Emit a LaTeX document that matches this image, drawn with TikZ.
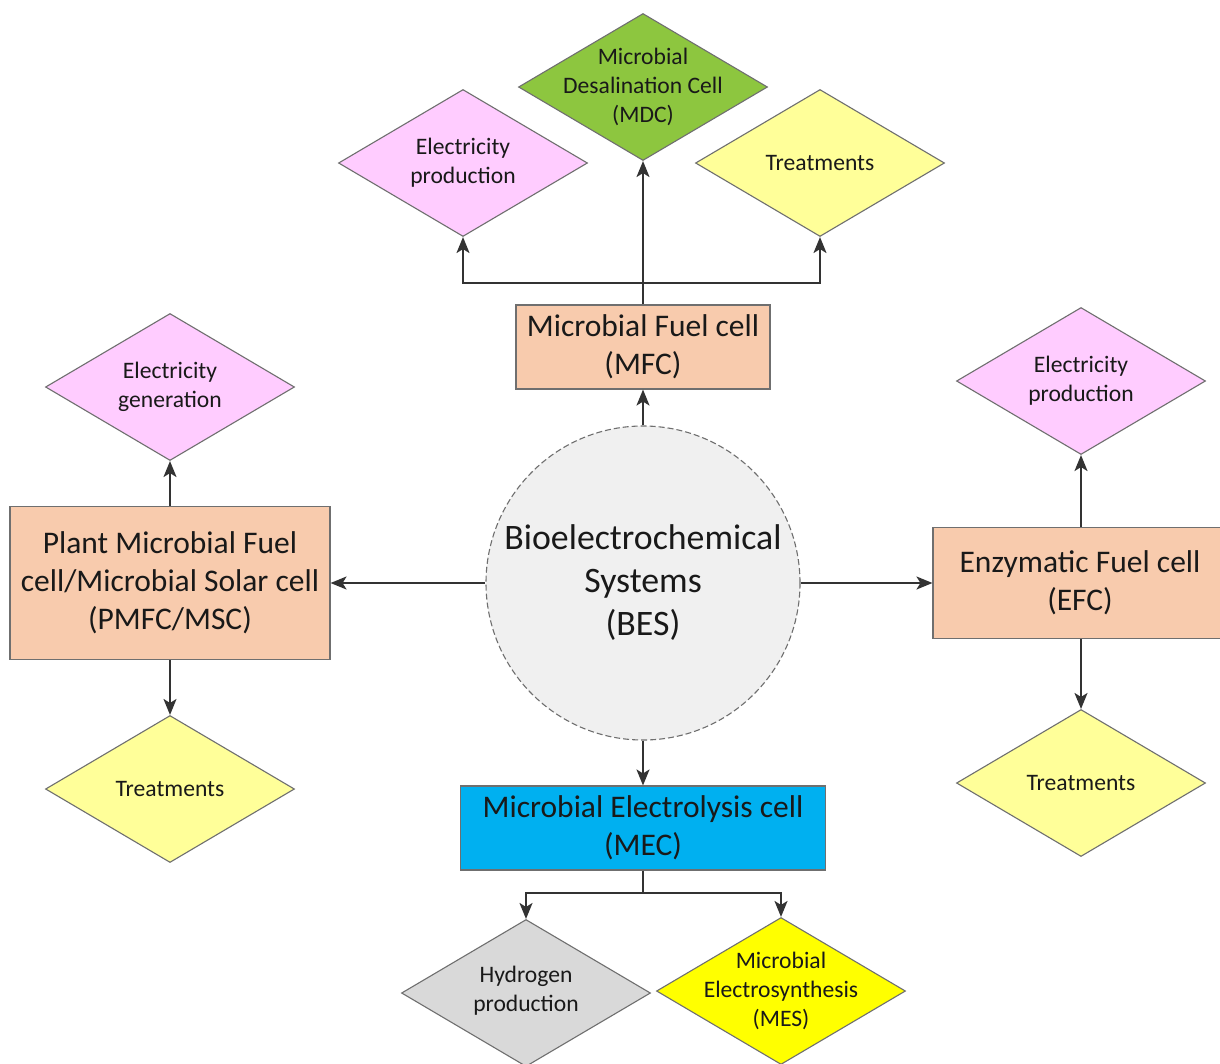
\documentclass[tikz,border=0pt]{standalone}
\usepackage{fontspec}
\setmainfont{Carlito}
\usetikzlibrary{shapes.geometric,arrows.meta}
\definecolor{pinkc}{HTML}{FFCCFF}
\definecolor{lyel}{HTML}{FFFF99}
\definecolor{byel}{HTML}{FFFF00}
\definecolor{greenc}{HTML}{8DC63F}
\definecolor{grayc}{HTML}{D9D9D9}
\definecolor{peach}{HTML}{F8CBAD}
\definecolor{bluec}{HTML}{00B0F0}
\definecolor{circc}{HTML}{F0F0F0}
\definecolor{outl}{HTML}{6F6F6F}
\definecolor{linec}{HTML}{333333}
\begin{document}
\begin{tikzpicture}[x=1pt,y=-1pt,
  dia/.style={diamond, draw=outl, line width=1.1pt, minimum width=249pt, minimum height=147pt, inner sep=0pt},
  dtext/.style={align=center, inner sep=0pt, text=black!90, font=\fontsize{23.6}{29}\selectfont},
  boxn/.style={rectangle, draw=outl, line width=1.1pt, fill=peach, align=center, inner sep=0pt, text=black!90, font=\fontsize{31.5}{38}\selectfont},
  arr/.style={draw=linec, line width=2pt, -{Stealth[length=16pt,width=13pt,inset=4pt]}},
  ln/.style={draw=linec, line width=2pt}]
\useasboundingbox (0,0) rectangle (1220,1063);
\fill[white] (0,0) rectangle (1220,1063);

% centre circle
\node[circle, draw=outl, line width=1.1pt, dash pattern=on 6pt off 3pt, fill=circc, minimum size=314pt, inner sep=0pt] (bes) at (643,583) {};
\node[align=center, inner sep=0pt, text=black!90, font=\fontsize{35.8}{43}\selectfont] (bestext) at (643,583) {Bioelectrochemical\\Systems\\(BES)};

% boxes
\node[boxn, minimum width=254pt, minimum height=84pt] (mfc) at (643,347) {Microbial Fuel cell\\(MFC)};
\node[boxn, minimum width=320pt, minimum height=153pt] (pmfc) at (170,583) {Plant Microbial Fuel\\cell/Microbial Solar cell\\(PMFC/MSC)};
\node[boxn, minimum width=288pt, minimum height=111pt] (efc) at (1077,583) {\hspace*{6pt}Enzymatic Fuel cell\\\hspace*{6pt}(EFC)};
\node[boxn, fill=bluec, minimum width=365pt, minimum height=84pt] (mec) at (643,828) {Microbial Electrolysis cell\\(MEC)};

% diamonds
\node[dia, fill=greenc] (mdc) at (643,87) {};
\node[dtext] (mdct) at (643,87) {Microbial\\Desalination Cell\\(MDC)};
\node[dia, fill=pinkc] (e1) at (463,163) {};
\node[dtext] (e1t) at (463,163) {Electricity\\production};
\node[dia, fill=lyel] (t1) at (820,163) {};
\node[dtext] (t1t) at (820,163) {Treatments};
\node[dia, fill=pinkc] (e2) at (170,387) {};
\node[dtext] (e2t) at (170,387) {Electricity\\generation};
\node[dia, fill=lyel] (t2) at (170,789) {};
\node[dtext] (t2t) at (170,789) {Treatments};
\node[dia, fill=pinkc] (e3) at (1081,381) {};
\node[dtext] (e3t) at (1081,381) {Electricity\\production};
\node[dia, fill=lyel] (t3) at (1081,783) {};
\node[dtext] (t3t) at (1081,783) {Treatments};
\node[dia, fill=grayc] (hyd) at (526,993) {};
\node[dtext] (hydt) at (526,991) {Hydrogen\\production};
\node[dia, fill=byel] (mes) at (781,991) {};
\node[dtext] (mest) at (781,991) {Microbial\\Electrosynthesis\\(MES)};

% connectors from centre
\draw[arr] (bes.west) -- (pmfc.east);
\draw[arr] (bes.east) -- (efc.west);
\draw[arr] (bes.north) -- (mfc.south);
\draw[arr] (bes.south) -- (mec.north);

% MFC branch
\coordinate (j1) at (643,283);
\draw[arr] (mfc.north) -- (mdc.south);
\draw[arr] (j1) -| (e1.south);
\draw[arr] (j1) -| (t1.south);

% PMFC branch
\draw[arr] (pmfc.north) -- (e2.south);
\draw[arr] (pmfc.south) -- (t2.north);

% EFC branch
\draw[arr] (efc.north -| e3.south) -- (e3.south);
\draw[arr] (efc.south -| t3.north) -- (t3.north);

% MEC branch
\coordinate (j2) at (643,893);
\draw[ln] (mec.south) -- (j2);
\draw[arr] (j2) -| (hyd.north);
\draw[arr] (j2) -| (mes.north);
\end{tikzpicture}
\end{document}
